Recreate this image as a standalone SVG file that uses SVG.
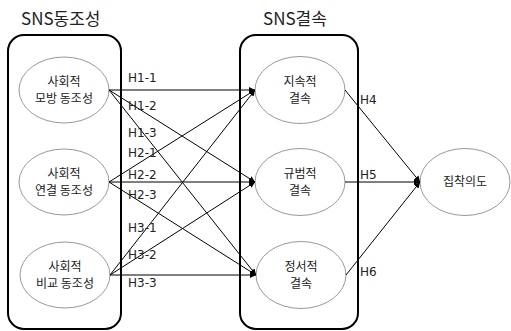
<svg xmlns="http://www.w3.org/2000/svg" width="511" height="331" viewBox="0 0 511 331">
<defs>
<style>
text{font-family:"Noto Sans CJK KR","Noto Sans",sans-serif;fill:#222;}
.title{font-size:17px;}
.node{font-size:12px;text-anchor:middle;}
.lbl{font-size:12px;font-family:"DejaVu Sans","Noto Sans",sans-serif;}
.box{fill:none;stroke:#000;stroke-width:2;}
.ell{fill:#fff;stroke:#999;stroke-width:1;}
.con line{stroke:#000;stroke-width:1;marker-end:url(#ah);}
</style>
<marker id="ah" viewBox="0 0 10 10" refX="10" refY="5" markerWidth="6" markerHeight="6" orient="auto" markerUnits="userSpaceOnUse">
<path d="M0,0 L10,5 L0,10 z" fill="#000"/>
</marker>
</defs>
<rect width="511" height="331" fill="#fff"/>
<text class="title" x="21" y="25">SNS동조성</text>
<text class="title" x="263" y="25">SNS결속</text>
<rect class="box" x="8" y="35" width="113" height="294" rx="16"/>
<rect class="box" x="240" y="35" width="118" height="294" rx="16"/>
<g id="n1"><ellipse class="ell" cx="64" cy="90" rx="45" ry="33"/><text class="node" x="64" y="86">사회적</text><text class="node" x="64" y="103">모방 동조성</text></g>
<g id="n2"><ellipse class="ell" cx="64" cy="182" rx="45" ry="33"/><text class="node" x="64" y="178">사회적</text><text class="node" x="64" y="195">연결 동조성</text></g>
<g id="n3"><ellipse class="ell" cx="65" cy="275" rx="45" ry="33"/><text class="node" x="65" y="271">사회적</text><text class="node" x="65" y="288">비교 동조성</text></g>
<g id="m1"><ellipse class="ell" cx="300" cy="90" rx="45" ry="33.5"/><text class="node" x="300" y="86">지속적</text><text class="node" x="300" y="103">결속</text></g>
<g id="m2"><ellipse class="ell" cx="300" cy="182" rx="45" ry="33.5"/><text class="node" x="300" y="178">규범적</text><text class="node" x="300" y="195">결속</text></g>
<g id="m3"><ellipse class="ell" cx="301" cy="275" rx="45" ry="33.5"/><text class="node" x="301" y="271">정서적</text><text class="node" x="301" y="288">결속</text></g>
<g id="t"><ellipse class="ell" cx="465" cy="182" rx="45" ry="33.5"/><text class="node" x="465" y="186">집착의도</text></g>
<g class="con">
<line x1="109" y1="90" x2="255" y2="90"/>
<line x1="109" y1="90" x2="255" y2="182"/>
<line x1="109" y1="90" x2="256" y2="275"/>
<line x1="109" y1="182" x2="255" y2="90"/>
<line x1="109" y1="182" x2="255" y2="182"/>
<line x1="109" y1="182" x2="256" y2="275"/>
<line x1="110" y1="275" x2="255" y2="90"/>
<line x1="110" y1="275" x2="255" y2="182"/>
<line x1="110" y1="275" x2="256" y2="275"/>
<line x1="345" y1="90" x2="420" y2="182"/>
<line x1="345" y1="182" x2="420" y2="182"/>
<line x1="346" y1="275" x2="420" y2="182"/>
</g>
<g id="labels">
<text class="lbl" x="128" y="82">H1-1</text>
<text class="lbl" x="128" y="110">H1-2</text>
<text class="lbl" x="128" y="137">H1-3</text>
<text class="lbl" x="128" y="157">H2-1</text>
<text class="lbl" x="128" y="179">H2-2</text>
<text class="lbl" x="128" y="199">H2-3</text>
<text class="lbl" x="128" y="232">H3-1</text>
<text class="lbl" x="128" y="259">H3-2</text>
<text class="lbl" x="128" y="287">H3-3</text>
<text class="lbl" x="360" y="104">H4</text>
<text class="lbl" x="360" y="179">H5</text>
<text class="lbl" x="360" y="276">H6</text>
</g>
</svg>
